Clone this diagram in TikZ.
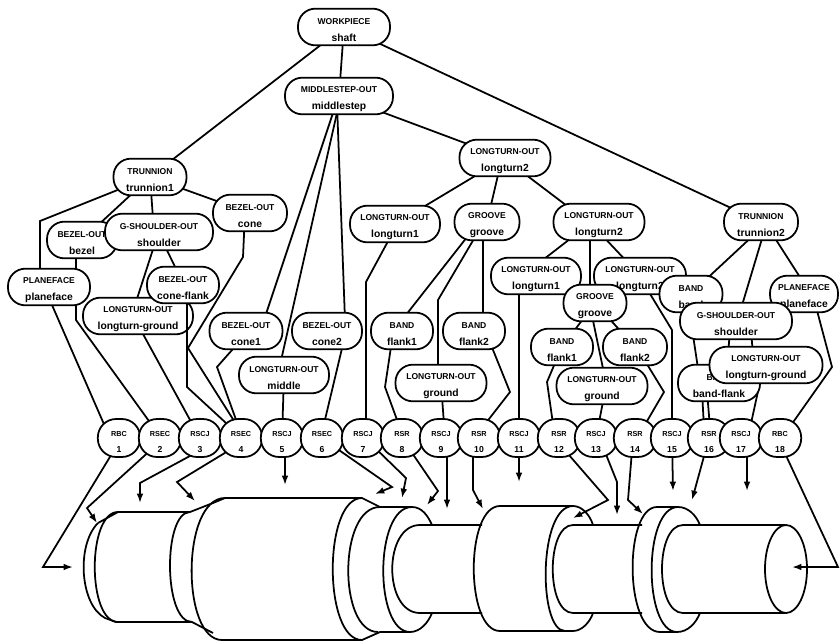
\documentclass[tikz,border=0pt]{standalone}
\usepackage{fontspec}
\setmainfont{Liberation Sans}
\usetikzlibrary{arrows.meta,backgrounds,calc}
\newcommand{\lbl}[2]{\fontsize{7.3}{9}\selectfont\rule{0pt}{10.5pt}#1\\[2pt]\fontsize{8.8}{10}\selectfont #2}
\newcommand{\jnt}[2]{\fontsize{6.2}{8}\selectfont\rule{0pt}{11pt}#1\\[2pt]\fontsize{7.4}{9}\selectfont #2}
\tikzset{
  part/.style={draw, fill=white, line width=1.5pt, rounded corners=0.52cm, inner sep=0pt, align=center,
    font=\bfseries, minimum height=1.1cm, minimum width=#1*0.3mm},
  joint/.style={draw, fill=white, line width=1.5pt, rounded corners=0.55cm, inner sep=0pt, align=center,
    font=\bfseries, minimum height=1.14cm, minimum width=1.27cm},
  link/.style={line width=1.5pt, line join=miter},
  arrowlink/.style={link, -{Latex[length=2.8mm,width=2mm]}},
  shaft/.style={line width=1.5pt}
}
\begin{document}
\begin{tikzpicture}[x=0.03cm, y=-0.03cm]
  \useasboundingbox (0,0) rectangle (840,641);
  % plan tree
  \node[part=92] (wp) at (344,27) {\lbl{WORKPIECE}{shaft}};
  \node[part=108] (midstep) at (339,96) {\lbl{MIDDLESTEP-OUT}{middlestep}};
  \node[part=91] (ltA) at (505,158) {\lbl{LONGTURN-OUT}{longturn2}};
  \node[part=90] (ltB) at (395,224) {\lbl{LONGTURN-OUT}{longturn1}};
  \node[part=65] (grA) at (487,222) {\lbl{GROOVE}{groove}};
  \node[part=73] (trA) at (150,177) {\lbl{TRUNNION}{trunnion1}};
  \node[part=74] (bzcone) at (250,213) {\lbl{BEZEL-OUT}{cone}};
  \node[part=70] (bz) at (82,240) {\lbl{BEZEL-OUT}{bezel}};
  \node[part=108] (shA) at (159,232) {\lbl{G-SHOULDER-OUT}{shoulder}};
  \node[part=82] (pfA) at (49,287) {\lbl{PLANEFACE}{planeface}};
  \node[part=110] (lgA) at (138,316) {\lbl{LONGTURN-OUT}{longturn-ground}};
  \node[part=72] (bzflank) at (183,285) {\lbl{BEZEL-OUT}{cone-flank}};
  \node[part=73] (bzone) at (246,331) {\lbl{BEZEL-OUT}{cone1}};
  \node[part=90] (ltmid) at (284,375) {\lbl{LONGTURN-OUT}{middle}};
  \node[part=70] (bztwo) at (327,331) {\lbl{BEZEL-OUT}{cone2}};
  \node[part=62] (flA) at (402,331) {\lbl{BAND}{flank1}};
  \node[part=62] (flB) at (474,331) {\lbl{BAND}{flank2}};
  \node[part=91] (gdA) at (441,383) {\lbl{LONGTURN-OUT}{ground}};
  \node[part=91] (ltC) at (599,222) {\lbl{LONGTURN-OUT}{longturn2}};
  \node[part=74] (trB) at (761,222) {\lbl{TRUNNION}{trunnion2}};
  \node[part=90] (ltD) at (536,276) {\lbl{LONGTURN-OUT}{longturn1}};
  \node[part=92] (ltE) at (640,276) {\lbl{LONGTURN-OUT}{longturn2}};
  \node[part=63] (grB) at (595,303) {\lbl{GROOVE}{groove}};
  \node[part=63] (bd) at (691,294) {\lbl{BAND}{band}};
  \node[part=68] (pfB) at (804,294) {\lbl{PLANEFACE}{planeface}};
  \node[part=112] (shB) at (736,321) {\lbl{G-SHOULDER-OUT}{shoulder}};
  \node[part=82] (bdflank) at (719,383) {\lbl{BAND}{band-flank}};
  \node[part=113] (lgB) at (766,365) {\lbl{LONGTURN-OUT}{longturn-ground}};
  \node[part=62] (flC) at (562,347) {\lbl{BAND}{flank1}};
  \node[part=64] (flD) at (635,347) {\lbl{BAND}{flank2}};
  \node[part=91] (gdB) at (602,386) {\lbl{LONGTURN-OUT}{ground}};
  % operation row
  \foreach \x/\t/\n in {119/RBC/1, 160/RSEC/2, 200/RSCJ/3, 241/RSEC/4, 282/RSCJ/5, 322/RSEC/6,
      363/RSCJ/7, 402/RSR/8, 441/RSCJ/9, 479/RSR/10, 519/RSCJ/11, 559/RSR/12, 596/RSCJ/13,
      635/RSR/14, 672/RSCJ/15, 709/RSR/16, 741/RSCJ/17, 780/RBC/18}
    \node[joint] (r\n) at (\x,438) {\jnt{\t}{\n}};
  % arrow ends
  \coordinate (e1) at (73,567);
  \coordinate (e2) at (97,523);
  \coordinate (e3) at (140,503);
  \coordinate (e4) at (195,501);
  \coordinate (e5) at (285,485);
  \coordinate (e6) at (375,494);
  \coordinate (e7) at (402,498);
  \coordinate (e8) at (427,505);
  \coordinate (e9) at (447,509);
  \coordinate (e10) at (483,509);
  \coordinate (e11) at (519,482);
  \coordinate (e12) at (573,518);
  \coordinate (e13) at (617,515);
  \coordinate (e14) at (643,514);
  \coordinate (e15) at (673,491);
  \coordinate (e16) at (692,500);
  \coordinate (e17) at (747,491);
  \coordinate (e18) at (792,567);
  \begin{scope}[on background layer]
    \draw[link] (wp.center) -- (midstep.center);
    \draw[link] (wp.center) -- (trA.center);
    \draw[link] (wp.center) -- (trB.center);
    \draw[link] (midstep.center) -- (ltA.center);
    \draw[link] ($(midstep)+(-3,8)$) -- ($(bzone)+(18,-11)$);
    \draw[link] ($(midstep)+(0,8)$) -- ($(ltmid)+(-4,-10)$);
    \draw[link] ($(midstep)+(-2,8)$) -- ($(bztwo)+(18,-11)$);
    \draw[link] (ltA.center) -- (ltB.center);
    \draw[link] ($(ltA)+(-3,0)$) -- (grA.center);
    \draw[link] ($(ltA)+(8,7)$) -- ($(ltC)+(-20,-7)$);
    \draw[link] (trA.center) -- (40,221) -- ($(pfA)+(-9,0)$);
    \draw[link] (trA.center) -- (bz.center);
    \draw[link] (trA.center) -- ($(shA)+(-5,0)$);
    \draw[link] (trA.center) -- (bzcone.center);
    \draw[link] ($(shA)+(-3,8)$) -- ($(lgA)+(-4,-8)$);
    \draw[link] ($(shA)+(3,8)$) -- ($(bzflank)+(-4,-10)$);
    \draw[link] ($(bz)+(-6,0)$) -- (76,320) -- ($(r2)+(-6,-10)$);
    \draw[link] ($(pfA)+(3,18)$) -- ($(r1)+(-9,0)$);
    \draw[link] ($(lgA)+(5,18)$) -- ($(r3)+(-5,-9)$);
    \draw[link] ($(bzcone)+(-5,0)$) -- (243,257) -- (188,348) -- ($(r4)+(-5,-14)$);
    \draw[link] ($(bzone)+(-6,10)$) -- (217,367) -- ($(r4)+(-2,-10)$);
    \draw[link] (ltmid.center) -- (r5.center);
    \draw[link] ($(bztwo)+(17,9)$) -- ($(r6)+(1,-10)$);
    \draw[link] ($(ltB)+(-2,8)$) -- (366,282) -- ($(r7)+(3,0)$);
    \draw[link] ($(grA)+(-16,10)$) -- ($(flA)+(0,-11)$);
    \draw[link] ($(grA)+(-9,10)$) -- (438,300) -- ($(gdA)+(-3,-10)$);
    \draw[link] ($(grA)+(-4,10)$) -- ($(flB)+(9,-10)$);
    \draw[link] ($(flA)+(-10,9)$) -- (385,387) -- ($(r8)+(-2,-10)$);
    \draw[link] (gdA.center) -- ($(r9)+(4,0)$);
    \draw[link] ($(flB)+(15,9)$) -- (510,392) -- ($(r10)+(3,-10)$);
    \draw[link] ($(ltD)+(-17,0)$) -- (r11.center);
    \draw[link] ($(ltC)+(-20,10)$) -- ($(ltD)+(-1,-10)$);
    \draw[link] ($(ltC)+(-9,0)$) -- ($(grB)+(-5,0)$);
    \draw[link] ($(ltC)+(0,10)$) -- ($(ltE)+(-9,-10)$);
    \draw[link] (grB.center) -- (flC.center);
    \draw[link] ($(grB)+(-4,8)$) -- ($(gdB)+(3,-8)$);
    \draw[link] (grB.center) -- (flD.center);
    \draw[link] ($(ltE)+(4,8)$) -- (672,330) -- (r15.center);
    \draw[link] ($(flC)+(-4,9)$) -- (547,382) -- ($(r12)+(-4,0)$);
    \draw[link] ($(gdB)+(4,0)$) -- (r13.center);
    \draw[link] ($(flD)+(7,9)$) -- (664,392) -- ($(r14)+(8,-10)$);
    \draw[link] ($(trB)+(-4,10)$) -- ($(bd)+(9,-9)$);
    \draw[link] ($(trB)+(3,10)$) -- ($(shB)+(4,-9)$);
    \draw[link] ($(trB)+(10,10)$) -- ($(pfB)+(1,-9)$);
    \draw[link] ($(bd)+(-3,8)$) -- ($(bdflank)+(-20,-8)$);
    \draw[link] ($(shB)+(-6,8)$) -- ($(lgB)+(-38,-9)$);
    \draw[link] ($(shB)+(15,8)$) -- ($(lgB)+(-13,-9)$);
    \draw[link] ($(bdflank)+(-12,8)$) -- ($(r16)+(1,-10)$);
    \draw[link] ($(bdflank)+(-17,8)$) -- ($(r16)+(-5,-10)$);
    \draw[link] ($(lgB)+(-4,8)$) -- ($(r17)+(9,-10)$);
    \draw[link] ($(pfB)+(11,9)$) -- (832,367) -- ($(r18)+(9,-10)$);
    % arrows down to the shaft
    \draw[arrowlink] ($(r1)+(-3,9)$) -- (43,567) -- (e1);
    \draw[arrowlink] ($(r2)+(-6,9)$) -- (87,508) -- (e2);
    \draw[arrowlink] ($(r3)+(1,12)$) -- (140,483) -- (e3);
    \draw[arrowlink] ($(r4)+(-8,10)$) -- (177,482) -- (e4);
    \draw[arrowlink] ($(r5)+(3,0)$) -- (e5);
    \draw[arrowlink] ($(r6)+(14,10)$) -- (392,487) -- (e6);
    \draw[arrowlink] ($(r7)+(9,7)$) -- (406,478) -- (e7);
    \draw[arrowlink] ($(r8)+(6,9)$) -- (438,491) -- (e8);
    \draw[arrowlink] ($(r9)+(6,0)$) -- (e9);
    \draw[arrowlink] ($(r10)+(-6,0)$) -- (473,490) -- (e10);
    \draw[arrowlink] (r11.center) -- (e11);
    \draw[arrowlink] ($(r12)+(3,9)$) -- (608,500) -- (e12);
    \draw[arrowlink] ($(r13)+(7,9)$) -- (617,482) -- (e13);
    \draw[arrowlink] ($(r14)+(-2,0)$) -- (628,500) -- (e14);
    \draw[arrowlink] (r15.center) -- (e15);
    \draw[arrowlink] (r16.center) -- (e16);
    \draw[arrowlink] ($(r17)+(6,0)$) -- (e17);
    \draw[arrowlink] ($(r18)+(2,9)$) -- (838,567) -- (e18);
  \end{scope}
  \draw[link] ($(bzflank)+(4,19)$) -- (187,387) -- ($(r4)+(-15,-15)$);
  % shaft
  \draw[shaft] (98,523) .. controls (76,545) and (80,605) .. (105,618) -- (116,622) -- (192,622);
  \draw[shaft] (98,523) -- (118,512) -- (190,512) -- (213,503) -- (225,498) -- (362,498) -- (380,507) -- (412,507);
  \draw[shaft] (118,512) .. controls (87,512) and (87,622) .. (118,622);
  \draw[shaft] (190,512) .. controls (163,512) and (163,622) .. (192,622) -- (213,633);
  \draw[shaft] (225,498) .. controls (181,498) and (181,640) .. (222,640) -- (362,640) -- (380,632) -- (410,632);
  \draw[shaft] (362,498) .. controls (323,498) and (323,640) .. (362,640);
  \draw[shaft] (380,507) .. controls (338,507) and (338,632) .. (378,632);
  \draw[shaft] (412,507) .. controls (374,507) and (374,632) .. (410,632);
  \draw[shaft] (412,507) .. controls (422,507) and (428,516) .. (432,525);
  \draw[shaft] (410,632) .. controls (420,632) and (428,623) .. (432,613);
  \draw[shaft] (482,525) -- (420,525) .. controls (383,525) and (383,613) .. (420,613) -- (482,613);
  \draw[shaft] (500,506) .. controls (465,506) and (465,631) .. (500,631) -- (573,631);
  \draw[shaft] (500,506) -- (573,506) .. controls (538,506) and (538,631) .. (565,631);
  \draw[shaft] (642,525) -- (573,525) .. controls (546,525) and (546,613) .. (573,613) -- (642,613);
  \draw[shaft] (573,506) .. controls (582,506) and (590,515) .. (593,525);
  \draw[shaft] (573,631) .. controls (582,631) and (590,622) .. (593,613);
  \draw[shaft] (657,507) .. controls (624,507) and (624,632) .. (660,632) -- (677,632);
  \draw[shaft] (657,507) -- (678,507) .. controls (643,507) and (643,632) .. (677,632);
  \draw[shaft] (678,507) .. controls (688,507) and (696,515) .. (700,525);
  \draw[shaft] (677,632) .. controls (688,632) and (696,623) .. (700,613);
  \draw[shaft] (785,525) -- (683,525) .. controls (655,525) and (655,613) .. (683,613) -- (785,613);
  \draw[shaft] (786,569) ellipse (21 and 44);
\end{tikzpicture}
\end{document}
